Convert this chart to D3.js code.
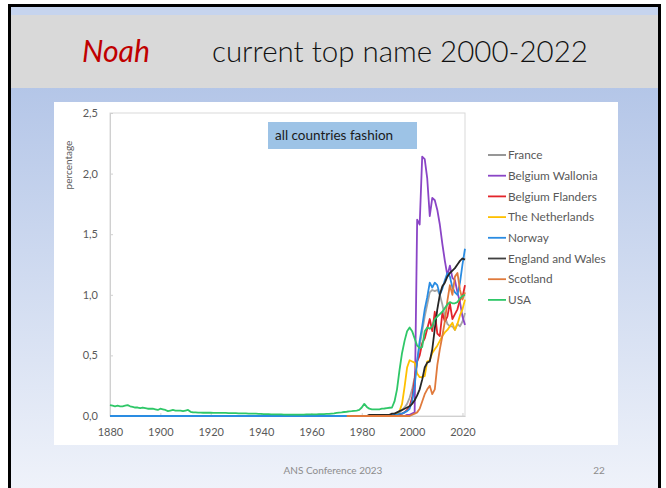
<!DOCTYPE html>
<html>
<head>
<meta charset="utf-8">
<script src="https://cdn.jsdelivr.net/npm/d3@7"></script>
<style>
  body { margin: 0; background: #fff; }
  svg { display: block; font-family: Lato, "Open Sans", sans-serif; }
</style>
</head>
<body>
<svg id="slide" width="666" height="488"></svg>
<script>
// ---- data (percentage of births named Noah) ----
const seriesNames = ['France', 'Belgium Wallonia', 'Belgium Flanders', 'The Netherlands',
                     'Norway', 'England and Wales', 'Scotland', 'USA'];
const seriesColors = ['#a5a5a5', '#8a45c6', '#e3242b', '#ffc000',
                      '#2a8ce2', '#262626', '#e07a3c', '#2fc768'];
const legendColors = ['#8c8c8c', '#8a45c6', '#e3242b', '#ffc000',
                      '#2a8ce2', '#404040', '#e07a3c', '#2fc768'];

const franceStart = 1990;
const franceValues = [0.00, 0.00, 0.01, 0.01, 0.02, 0.03, 0.05, 0.07, 0.10, 0.15,
                      0.22, 0.32, 0.45, 0.58, 0.70, 0.82, 0.92, 1.02, 1.04, 1.03,
                      1.04, 1.00, 0.92, 0.82, 0.76, 0.74, 0.74, 0.71, 0.76, 0.74,
                      0.78, 0.85];

const walloniaStart = 1995;
const walloniaValues = [0.00, 0.00, 0.00, 0.01, 0.01,
                        0.02, 0.03, 1.62, 1.58, 2.14, 2.12, 1.96, 1.65, 1.80, 1.78,
                        1.70, 1.58, 1.42, 1.28, 1.16, 1.24, 1.14, 1.12, 1.02, 0.94,
                        0.82, 0.75];

const flandersStart = 1990;
const flandersValues = [0.00, 0.00, 0.01, 0.01, 0.01, 0.01, 0.02, 0.03, 0.05, 0.08,
                        0.15, 0.30, 0.45, 0.50, 0.60, 0.64, 0.72, 0.80, 0.70, 0.86,
                        0.68, 0.66, 0.85, 0.78, 0.82, 0.93, 0.80, 0.84, 0.88, 0.96,
                        0.98, 1.08];

const netherlandsStart = 1985;
const netherlandsValues = [0.00, 0.00, 0.00, 0.00, 0.01,
                           0.01, 0.01, 0.01, 0.02, 0.02, 0.04, 0.10, 0.24, 0.40, 0.46,
                           0.45, 0.44, 0.35, 0.32, 0.32, 0.33, 0.45, 0.46, 0.52, 0.55,
                           0.58, 0.62, 0.66, 0.69, 0.71, 0.74, 0.77, 0.71, 0.76, 0.83,
                           0.88, 0.96];

const norwayStart = 1880;
const norwayValues = [0, 0, 0, 0, 0, 0, 0, 0, 0, 0,
                      0, 0, 0, 0, 0, 0, 0, 0, 0, 0,
                      0, 0, 0, 0, 0, 0, 0, 0, 0, 0,
                      0, 0, 0, 0, 0, 0, 0, 0, 0, 0,
                      0, 0, 0, 0, 0, 0, 0, 0, 0, 0,
                      0, 0, 0, 0, 0, 0, 0, 0, 0, 0,
                      0, 0, 0, 0, 0, 0, 0, 0, 0, 0,
                      0, 0, 0, 0, 0, 0, 0, 0, 0, 0,
                      0, 0, 0, 0, 0, 0, 0, 0, 0, 0,
                      0, 0, 0, 0, 0, 0, 0, 0, 0, 0,
                      0, 0, 0, 0, 0, 0, 0, 0, 0, 0,
                      0.00, 0.00, 0.01, 0.01, 0.01, 0.02, 0.02, 0.03, 0.04, 0.06,
                      0.12, 0.25, 0.45, 0.62, 0.74, 0.88, 0.98, 1.10, 1.06, 1.10,
                      1.08, 1.00, 1.05, 1.12, 1.18, 1.15, 1.06, 1.02, 1.00, 1.10,
                      1.25, 1.38];

const englandStart = 1975;
const englandValues = [0.00, 0.00, 0.00, 0.00, 0.00, 0.00, 0.00, 0.00, 0.01, 0.01,
                       0.01, 0.01, 0.01, 0.01, 0.01,
                       0.01, 0.01, 0.02, 0.02, 0.03, 0.04, 0.05, 0.06, 0.07, 0.08,
                       0.10, 0.13, 0.17, 0.22, 0.30, 0.40, 0.44, 0.45, 0.55, 0.72,
                       0.88, 1.00, 1.07, 1.10, 1.15, 1.18, 1.20, 1.22, 1.25, 1.28,
                       1.30, 1.29];

const scotlandStart = 1974;
const scotlandValues = [0.00, 0.00, 0.00, 0.00, 0.00, 0.00, 0.00, 0.00, 0.00, 0.00,
                        0.00, 0.00, 0.00, 0.00, 0.00, 0.00, 0.00, 0.00, 0.00, 0.00,
                        0.00, 0.00, 0.00, 0.00, 0.00, 0.00,
                        0.01, 0.02, 0.03, 0.06, 0.12, 0.18, 0.22, 0.25, 0.18, 0.22,
                        0.42, 0.55, 0.66, 0.78, 0.95, 1.08, 1.00, 1.15, 1.18, 1.04,
                        0.96, 1.02];

const usaStart = 1880;
const usaValues = [0.090, 0.085, 0.080, 0.085, 0.080, 0.080, 0.085, 0.090, 0.080, 0.075,
                   0.070, 0.070, 0.065, 0.070, 0.065, 0.060, 0.060, 0.060, 0.055, 0.050,
                   0.060, 0.055, 0.050, 0.040, 0.045, 0.050, 0.045, 0.045, 0.045, 0.040,
                   0.045, 0.050, 0.035, 0.030, 0.030, 0.028, 0.028, 0.027, 0.027, 0.027,
                   0.027, 0.026, 0.026, 0.026, 0.025, 0.025, 0.025, 0.024, 0.024, 0.023,
                   0.023, 0.022, 0.022, 0.021, 0.021, 0.020, 0.020, 0.019, 0.019, 0.018,
                   0.017, 0.016, 0.015, 0.015, 0.014, 0.014, 0.013, 0.013, 0.013, 0.012,
                   0.012, 0.012, 0.012, 0.012, 0.012, 0.012, 0.012, 0.012, 0.013, 0.013,
                   0.013, 0.014, 0.014, 0.015, 0.015, 0.016, 0.017, 0.018, 0.020, 0.022,
                   0.025, 0.028, 0.030, 0.033, 0.035, 0.038, 0.040, 0.043, 0.045, 0.050,
                   0.070, 0.100, 0.075, 0.060, 0.055, 0.055, 0.055, 0.055, 0.060, 0.062,
                   0.065, 0.068, 0.070, 0.120, 0.220, 0.380, 0.520, 0.620, 0.700, 0.730,
                   0.700, 0.640, 0.580, 0.560, 0.570, 0.700, 0.730, 0.720, 0.740, 0.800,
                   0.820, 0.840, 0.860, 0.890, 0.920, 0.940, 0.930, 0.930, 0.940, 0.970,
                   0.990, 1.000];

const xTickYears = [1880, 1900, 1920, 1940, 1960, 1980, 2000, 2020];
const yTickValues = [0, 0.5, 1, 1.5, 2, 2.5];
const yTickLabels = ['0,0', '0,5', '1,0', '1,5', '2,0', '2,5'];

const seriesStarts = [franceStart, walloniaStart, flandersStart, netherlandsStart,
                      norwayStart, englandStart, scotlandStart, usaStart];
const seriesValues = [franceValues, walloniaValues, flandersValues, netherlandsValues,
                      norwayValues, englandValues, scotlandValues, usaValues];

const series = seriesNames.map((name, i) => ({
    name,
    color: seriesColors[i],
    points: seriesValues[i].map((v, j) => ({ year: seriesStarts[i] + j, value: v }))
}));

// ---- slide frame ----
const svg = d3.select('#slide');
const defs = svg.append('defs');
const grad = defs.append('linearGradient')
    .attr('id', 'bg').attr('x1', 0).attr('y1', 0).attr('x2', 0).attr('y2', 1);
grad.append('stop').attr('offset', '0%').attr('stop-color', '#a8bde4');
grad.append('stop').attr('offset', '100%').attr('stop-color', '#f0f3fa');

svg.append('rect').attr('x', 10).attr('y', 6).attr('width', 649).attr('height', 490)
    .attr('fill', 'url(#bg)');
svg.append('rect').attr('x', 10).attr('y', 6).attr('width', 649).attr('height', 9)
    .attr('fill', '#c6d4ee');
svg.append('rect').attr('x', 10).attr('y', 15).attr('width', 649).attr('height', 73)
    .attr('fill', '#d9d9d9');
svg.append('rect').attr('x', 9.5).attr('y', 5.5).attr('width', 650).attr('height', 500)
    .attr('fill', 'none').attr('stroke', '#000').attr('stroke-width', 3);

const fitWidth = (sel, w) => {
    const len = sel.node().getComputedTextLength();
    sel.attr('font-size', parseFloat(sel.attr('font-size')) * w / len);
};

const noah = svg.append('text')
    .attr('x', 82).attr('y', 62)
    .attr('font-size', 28).attr('font-style', 'italic')
    .attr('fill', '#c00000')
    .text('Noah');
fitWidth(noah, 68);

const title = svg.append('text')
    .attr('x', 212).attr('y', 62)
    .attr('font-size', 28).attr('font-weight', 300)
    .attr('fill', '#111')
    .text('current top name 2000-2022');
fitWidth(title, 376);

// chart panel
svg.append('rect').attr('x', 54).attr('y', 102).attr('width', 564).attr('height', 343)
    .attr('fill', '#fff');

// ---- chart ----
const x = d3.scaleLinear().domain([1880, 2021]).range([110, 465]);
const y = d3.scaleLinear().domain([0, 2.5]).range([416, 113]);

svg.append('rect')
    .attr('x', x(1880)).attr('y', y(2.5))
    .attr('width', x(2021) - x(1880)).attr('height', y(0) - y(2.5))
    .attr('fill', 'none').attr('stroke', '#d9d9d9').attr('stroke-width', 1);

const xAxis = svg.append('g')
    .attr('transform', `translate(0,${y(0)})`)
    .call(d3.axisBottom(x).tickValues(xTickYears).tickFormat(d3.format('d'))
        .tickSizeInner(-3).tickSizeOuter(0).tickPadding(12));
const yAxis = svg.append('g')
    .attr('transform', `translate(${x(1880)},0)`)
    .call(d3.axisLeft(y).tickValues(yTickValues)
        .tickFormat((d, i) => yTickLabels[i])
        .tickSizeInner(-3).tickSizeOuter(0).tickPadding(12));

[xAxis, yAxis].forEach(g => {
    g.select('.domain').attr('stroke', '#d0d0d0');
    g.selectAll('.tick line').attr('stroke', '#d0d0d0');
    g.selectAll('.tick text')
        .attr('fill', '#595959')
        .style('font-family', 'Lato, "Open Sans", sans-serif')
        .style('font-size', '11px');
});

svg.append('text')
    .attr('transform', 'translate(72,165) rotate(-90)')
    .attr('text-anchor', 'middle')
    .attr('font-size', 10)
    .attr('fill', '#595959')
    .text('percentage');

const line = d3.line()
    .x(d => x(d.year))
    .y(d => y(d.value));

svg.append('g').selectAll('path')
    .data(series)
    .join('path')
    .attr('d', d => line(d.points))
    .attr('fill', 'none')
    .attr('stroke', d => d.color)
    .attr('stroke-width', 1.8)
    .attr('stroke-linejoin', 'round');

// annotation box
svg.append('rect').attr('x', 268).attr('y', 122).attr('width', 149).attr('height', 27)
    .attr('fill', '#9dc3e6');
svg.append('text').attr('x', 275).attr('y', 140)
    .attr('font-size', 13.5).attr('fill', '#1a1a1a')
    .text('all countries fashion');

// legend
const legend = svg.append('g').selectAll('g')
    .data(series)
    .join('g')
    .attr('transform', (d, i) => `translate(488,${155 + i * 20.7})`);
legend.append('line')
    .attr('x1', 0).attr('x2', 18)
    .attr('stroke', (d, i) => legendColors[i])
    .attr('stroke-width', 1.8);
legend.append('text')
    .attr('x', 20).attr('dy', '0.35em')
    .attr('font-size', 11.8)
    .attr('fill', '#595959')
    .text(d => d.name);

// footer
svg.append('text').attr('x', 333).attr('y', 474)
    .attr('text-anchor', 'middle').attr('font-size', 10).attr('fill', '#8c8c8c')
    .text('ANS Conference 2023');
svg.append('text').attr('x', 599).attr('y', 474)
    .attr('text-anchor', 'middle').attr('font-size', 10).attr('fill', '#8c8c8c')
    .text('22');
</script>
</body>
</html>
